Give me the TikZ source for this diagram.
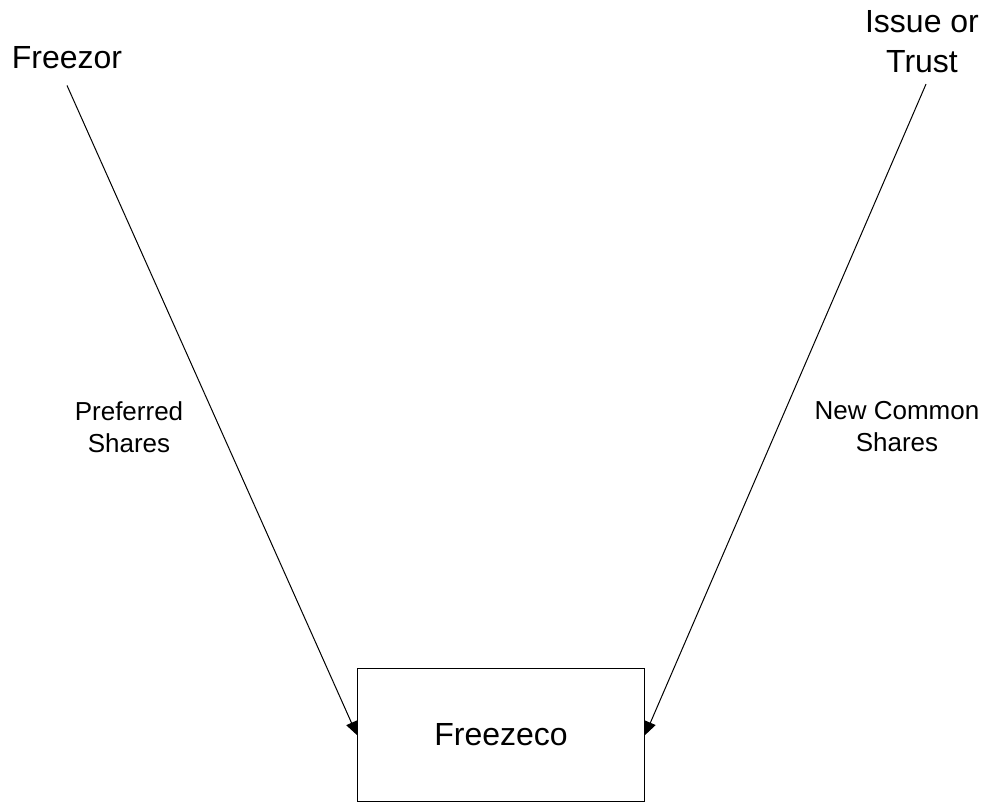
\documentclass[tikz,border=0pt]{standalone}
\usepackage{fontspec}
\setmainfont{Liberation Sans}
\usetikzlibrary{positioning,arrows.meta}

\begin{document}
\begin{tikzpicture}[x=0.75pt,y=-0.75pt,
  party/.style={font=\fontsize{24}{30}\selectfont,align=center,inner sep=2pt},
  flow/.style={font=\fontsize{19.5}{24}\selectfont,align=center},
  box/.style={draw,line width=1.1pt,minimum width=215pt,minimum height=100pt,font=\fontsize{24}{30}\selectfont},
  arr/.style={-{Triangle[length=10pt,width=8.5pt]},line width=.75pt}]
\useasboundingbox (0,0) rectangle (994,804);
\node[party] (freezor) at (67,58) {Freezor};
\node[party] (trust) at (922,42) {Issue or\\Trust};
\node[box] (freezeco) at (501,735) {Freezeco};
\node[flow] (pref) at (129,427) {Preferred\\Shares};
\node[flow] (common) at (897,427) {New Common\\Shares};
\coordinate[below=10pt of freezor.south] (fzout);
\coordinate[below=6pt of trust.south] (trout);
\draw[arr] (fzout)--(freezeco.west);
\draw[arr] ([xshift=3pt]trout)--(freezeco.east);
\end{tikzpicture}
\end{document}
